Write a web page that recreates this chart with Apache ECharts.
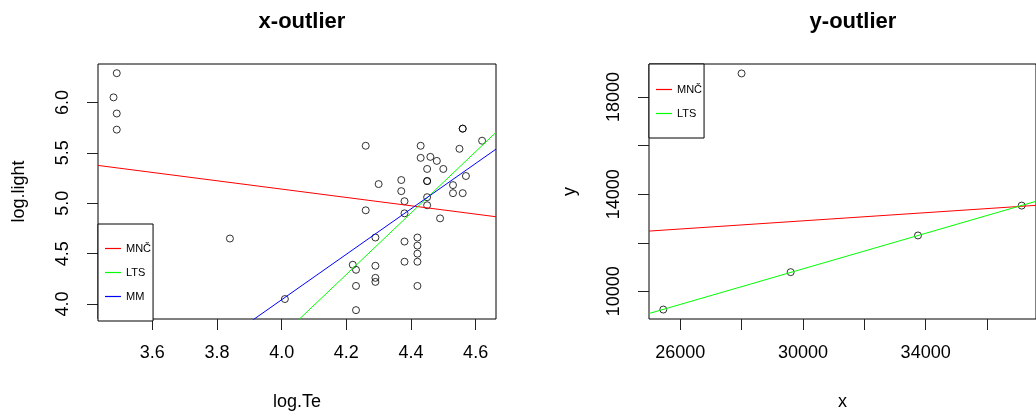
<!DOCTYPE html>
<html>
<head>
<meta charset="utf-8">
<script src="https://cdn.jsdelivr.net/npm/echarts@6/dist/echarts.min.js"></script>
<style>
html,body{margin:0;padding:0;background:#fff;}
#chart{width:1036px;height:416px;}
</style>
</head>
<body>
<div id="chart"></div>
<script>
// ---- Left panel: x-outlier (stars CYG OB1) ----
var logTe = [4.37,4.56,4.26,4.56,4.30,4.46,3.84,4.57,4.26,4.37,3.49,4.43,4.48,4.01,4.29,4.42,4.23,4.42,4.23,3.49,4.29,4.29,4.42,4.49,4.38,4.42,4.29,4.38,4.22,3.48,4.38,4.56,4.45,3.49,4.23,4.62,4.53,4.45,4.53,4.43,4.38,4.45,4.50,4.45,4.55,4.45,4.42];
var logLight = [5.23,5.74,4.93,5.74,5.19,5.46,4.65,5.27,5.57,5.12,5.73,5.45,5.42,4.05,4.26,4.58,3.94,4.18,4.18,5.89,4.38,4.22,4.42,4.85,5.02,4.66,4.66,4.90,4.39,6.05,4.42,5.10,5.22,6.29,4.34,5.62,5.10,5.22,5.18,5.57,4.62,5.06,5.34,5.34,5.54,4.98,4.50];
var leftXRange = [3.432, 4.663];
var leftYRange = [3.852, 6.381];
var leftXTicks = [3.6, 3.8, 4.0, 4.2, 4.4, 4.6];
var leftYTicks = [4.0, 4.5, 5.0, 5.5, 6.0];
var leftLTS = [-8.500, 3.046];   // intercept, slope
var leftMM  = [-4.969, 2.253];

// ---- Right panel: y-outlier ----
var rx = [25450, 28000, 29600, 33750, 37130];
var ry = [9250, 18970, 10790, 12300, 13530];
var rightXRange = [24983, 37597];
var rightYRange = [8861, 19359];
var rightXTicks = [26000, 28000, 30000, 32000, 34000, 36000];
var rightXLabels = [26000, 30000, 34000];
var rightYTicks = [10000, 12000, 14000, 16000, 18000];
var rightYLabels = [10000, 14000, 18000];

var legendNamesLeft = ['MNČ', 'LTS', 'MM'];
var legendNamesRight = ['MNČ', 'LTS'];

function ols(xs, ys) {
  var n = xs.length, mx = 0, my = 0, sxx = 0, sxy = 0;
  for (var i = 0; i < n; i++) { mx += xs[i]; my += ys[i]; }
  mx /= n; my /= n;
  for (var j = 0; j < n; j++) { sxx += (xs[j]-mx)*(xs[j]-mx); sxy += (xs[j]-mx)*(ys[j]-my); }
  var b = sxy / sxx;
  return [my - b*mx, b];
}
function subsetFit(xs, ys, idx) {
  var sx = [], sy = [];
  idx.forEach(function(i){ sx.push(xs[i]); sy.push(ys[i]); });
  return ols(sx, sy);
}
function lineData(coef, range) {
  return range.map(function(x){ return [x, coef[0] + coef[1]*x]; });
}
function pairs(xs, ys) { return xs.map(function(x, i){ return [x, ys[i]]; }); }

var leftOLS = ols(logTe, logLight);
var rightOLS = ols(rx, ry);
var rightLTS = subsetFit(rx, ry, [0, 2, 3, 4]);

var FONT = 'Liberation Sans, Arial, sans-serif';
var RED = '#FF0000', GREEN = '#00FF00', BLUE = '#0000FF';
var COLORS = { 'MNČ': RED, 'LTS': GREEN, 'MM': BLUE };

function xAxisCfg(gi, range, ticks, labels, name, fmt) {
  return {
    type: 'value', gridIndex: gi, min: range[0], max: range[1],
    name: name, nameLocation: 'middle', nameGap: 74,
    nameTextStyle: { fontFamily: FONT, fontSize: 18, color: '#000' },
    axisLine: { show: false },
    axisTick: { show: true, inside: false, length: 11, customValues: ticks, lineStyle: { color: '#222', width: 1 } },
    axisLabel: { show: true, customValues: labels, margin: 25, fontFamily: FONT, fontSize: 18, color: '#000', formatter: fmt },
    splitLine: { show: false }
  };
}
function yAxisCfg(gi, range, ticks, labels, name, fmt) {
  return {
    type: 'value', gridIndex: gi, min: range[0], max: range[1],
    name: name, nameLocation: 'middle', nameGap: 70,
    nameTextStyle: { fontFamily: FONT, fontSize: 18, color: '#000' },
    axisLine: { show: false },
    axisTick: { show: true, inside: false, length: 11, customValues: ticks, lineStyle: { color: '#222', width: 1 } },
    axisLabel: { show: true, rotate: 90, customValues: labels, margin: 26, fontFamily: FONT, fontSize: 18, color: '#000', formatter: fmt },
    splitLine: { show: false }
  };
}
var fmt1 = function(v){ return Number(v).toFixed(1); };
var fmt0 = function(v){ return String(Math.round(v)); };

var pointStyle = { color: 'rgba(0,0,0,0)', borderColor: '#000', borderWidth: 1 };

function legendData(names) {
  return names.map(function(n){
    return { name: n, icon: 'rect', itemStyle: { color: COLORS[n], borderWidth: 0 } };
  });
}
function legendCfg(names, left, top, padding) {
  return {
    data: legendData(names), orient: 'vertical', left: left, top: top,
    padding: padding, itemGap: 13, itemWidth: 16, itemHeight: 1.2,
    itemTextGap: 6, selectedMode: false,
    itemStyle: { borderWidth: 0 }, lineStyle: { width: 0 },
    borderColor: '#000', borderWidth: 1, backgroundColor: '#fff',
    textStyle: { fontFamily: FONT, fontSize: 11, color: '#000' }
  };
}

var option = {
  animation: false,
  backgroundColor: '#fff',
  title: [
    { text: 'x-outlier', left: 297, top: 6, textAlign: 'center',
      textStyle: { fontFamily: FONT, fontSize: 22, fontWeight: 'bold', color: '#000' } },
    { text: 'y-outlier', left: 848, top: 6, textAlign: 'center',
      textStyle: { fontFamily: FONT, fontSize: 22, fontWeight: 'bold', color: '#000' } }
  ],
  grid: [
    { left: 98, top: 64, width: 398, height: 257, show: true, borderColor: '#000', borderWidth: 1, backgroundColor: 'transparent' },
    { left: 649, top: 64, width: 398, height: 258, show: true, borderColor: '#000', borderWidth: 1, backgroundColor: 'transparent' }
  ],
  legend: [
    legendCfg(legendNamesLeft, 98, 224, [19, 2, 19, 7]),
    legendCfg(legendNamesRight, 649, 64, [20, 2, 19, 7])
  ],
  xAxis: [
    xAxisCfg(0, leftXRange, leftXTicks, leftXTicks, 'log.Te', fmt1),
    xAxisCfg(1, rightXRange, rightXTicks, rightXLabels, 'x', fmt0)
  ],
  yAxis: [
    yAxisCfg(0, leftYRange, leftYTicks, leftYTicks, 'log.light', fmt1),
    yAxisCfg(1, rightYRange, rightYTicks, rightYLabels, 'y', fmt0)
  ],
  series: [
    { type: 'scatter', name: 'stars', xAxisIndex: 0, yAxisIndex: 0, data: pairs(logTe, logLight),
      symbol: 'circle', symbolSize: 7, itemStyle: pointStyle, z: 2 },
    { type: 'line', name: 'MNČ', xAxisIndex: 0, yAxisIndex: 0, data: lineData(leftOLS, leftXRange),
      showSymbol: false, clip: true, lineStyle: { color: RED, width: 1 }, itemStyle: { color: RED }, z: 3 },
    { type: 'line', name: 'LTS', xAxisIndex: 0, yAxisIndex: 0, data: lineData(leftLTS, leftXRange),
      showSymbol: false, clip: true, lineStyle: { color: GREEN, width: 1 }, itemStyle: { color: GREEN }, z: 3 },
    { type: 'line', name: 'MM', xAxisIndex: 0, yAxisIndex: 0, data: lineData(leftMM, leftXRange),
      showSymbol: false, clip: true, lineStyle: { color: BLUE, width: 1 }, itemStyle: { color: BLUE }, z: 3 },

    { type: 'scatter', name: 'points', xAxisIndex: 1, yAxisIndex: 1, data: pairs(rx, ry),
      symbol: 'circle', symbolSize: 7, itemStyle: pointStyle, z: 2 },
    { type: 'line', name: 'MNČ', xAxisIndex: 1, yAxisIndex: 1, data: lineData(rightOLS, rightXRange),
      showSymbol: false, clip: true, lineStyle: { color: RED, width: 1 }, itemStyle: { color: RED }, z: 3 },
    { type: 'line', name: 'LTS', xAxisIndex: 1, yAxisIndex: 1, data: lineData(rightLTS, rightXRange),
      showSymbol: false, clip: true, lineStyle: { color: GREEN, width: 1 }, itemStyle: { color: GREEN }, z: 3 }
  ]
};

var chart = echarts.init(document.getElementById('chart'), null, { renderer: 'canvas' });
chart.setOption(option);
</script>
</body>
</html>
